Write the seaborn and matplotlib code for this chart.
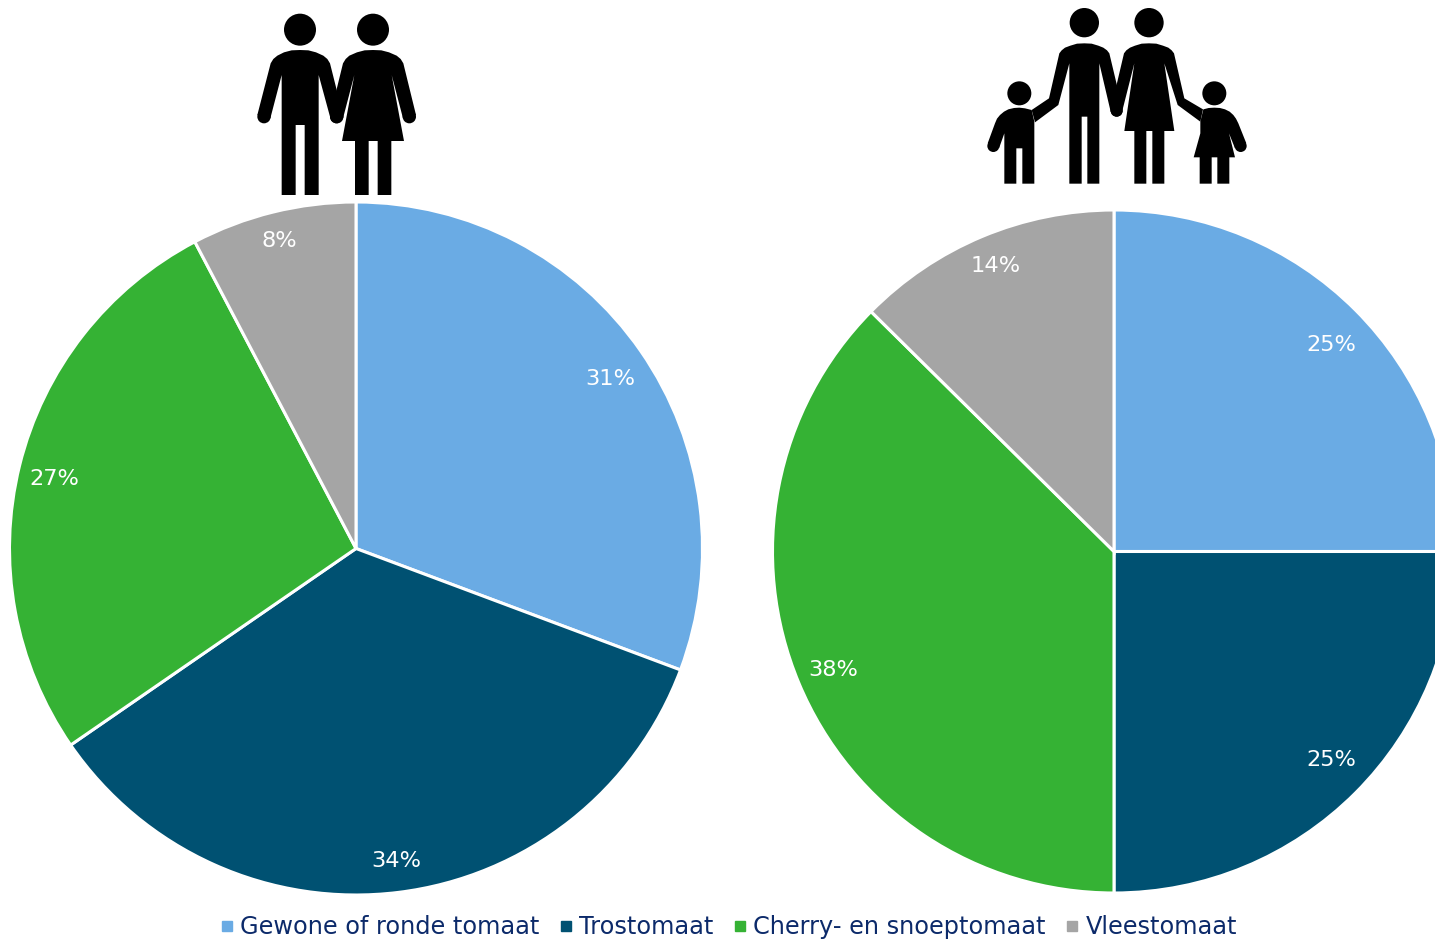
import matplotlib
matplotlib.use("Agg")
import matplotlib.pyplot as plt
from matplotlib.lines import Line2D
from matplotlib.patches import Circle, Polygon
import seaborn as sns

W, H = 1435, 940

categories = ["Gewone of ronde tomaat", "Trostomaat", "Cherry- en snoeptomaat", "Vleestomaat"]
couple_values = [30.7, 34.7, 26.9, 7.7]
couple_labels = ["31%", "34%", "27%", "8%"]
family_values = [25.0, 25.0, 37.4, 12.6]
family_labels = ["25%", "25%", "38%", "14%"]
colors = ["#6AABE4", "#005172", "#35B234", "#A5A5A5"]

sns.set_theme(style="white")
plt.rcParams["font.family"] = ["DejaVu Sans"]
palette = sns.color_palette(colors)

fig = plt.figure(figsize=(W / 100, H / 100), dpi=100)


def draw_pie(values, labels, cx, cy, r, nudges):
    # pie() leaves 1.25 radius of room each way
    half = r * 1.25
    ax = fig.add_axes([(cx - half) / W, 1 - (cy + half) / H, 2 * half / W, 2 * half / H])
    it = iter(labels)
    wedges, _, pct = ax.pie(values, colors=palette, startangle=90, counterclock=False,
                            autopct=lambda p: next(it), pctdistance=0.89,
                            wedgeprops={"edgecolor": "white", "linewidth": 2.2})
    for t, (dx, dy) in zip(pct, nudges):
        x, y = t.get_position()
        t.set_position((x + dx / r, y - dy / r))  # nudges are in pixels, y down
        t.set_color("white")
        t.set_fontsize(16.2)
    return wedges


draw_pie(couple_values, couple_labels, 356, 548.5, 346.5, [(1, 6), (3, 6), (-2, 4), (-3, -8)])
draw_pie(family_values, family_labels, 1114, 551.5, 341.5, [(2, 8), (2, -6), (0, 1), (-1, -5)])

# icons, traced in 3x crop coordinates
icons = fig.add_axes([0, 0, 1, 1], zorder=5)
icons.set_xlim(0, W)
icons.set_ylim(H, 0)
icons.axis("off")


def person(ox, head, hands, outline):
    icons.add_patch(Circle((ox + head[0] / 3, head[1] / 3), head[2] / 3, color="black", lw=0))
    for hx, hy, hr in hands:
        icons.add_patch(Circle((ox + hx / 3, hy / 3), hr / 3, color="black", lw=0))
    pts = [(ox + x / 3, y / 3) for x, y in outline]
    icons.add_patch(Polygon(pts, closed=True, color="black", lw=0))


# couple
person(240, (180, 89, 48), [(72, 350, 20), (290, 350, 20)],
       [(180, 150), (205, 151), (228, 157), (250, 167), (262, 177), (270, 190), (309, 345), (270, 350),
        (236, 225), (236, 585), (194, 585), (194, 375), (167, 375), (167, 585), (125, 585), (125, 225),
        (91, 355), (52, 345), (92, 190), (100, 177), (112, 167), (132, 157), (155, 151)])
person(240, (399, 89, 48), [(508, 350, 20), (290, 350, 20)],
       [(399, 150), (424, 151), (447, 157), (470, 167), (482, 177), (490, 190), (528, 345), (489, 355),
        (455, 225), (492, 423), (454, 423), (454, 585), (413, 585), (413, 423), (386, 423), (386, 585),
        (345, 585), (345, 423), (306, 423), (343, 225), (309, 355), (271, 345), (309, 190), (317, 177),
        (328, 167), (351, 157), (374, 151)])

# family
person(975, (328, 68, 44), [(425, 332, 18)],
       [(328, 130), (350, 131), (370, 137), (385, 143), (396, 151), (403, 160), (443, 328), (407, 335),
        (373, 190), (373, 551), (337, 551), (337, 350), (320, 350), (320, 551), (283, 551), (283, 190),
        (250, 315), (180, 367), (170, 330), (222, 295), (253, 160), (260, 151), (270, 143), (286, 137),
        (306, 131)])
person(975, (522, 68, 44), [(425, 332, 18)],
       [(522, 130), (544, 131), (564, 137), (580, 143), (590, 151), (597, 160), (628, 295), (684, 328),
        (676, 365), (608, 315), (568, 190), (598, 393), (568, 393), (568, 551), (532, 551), (532, 393),
        (514, 393), (514, 551), (478, 551), (478, 393), (448, 393), (478, 190), (443, 328), (407, 330),
        (447, 160), (454, 151), (465, 143), (480, 137), (500, 131)])
person(975, (133, 280, 36), [(55, 438, 18)],
       [(133, 323), (150, 325), (170, 330), (178, 365), (178, 551), (142, 551), (142, 445), (124, 445),
        (124, 551), (88, 551), (88, 400), (72, 445), (38, 430), (60, 370), (66, 356), (75, 345),
        (87, 335), (100, 328), (117, 324)])
person(975, (718, 280, 36), [(797, 438, 18)],
       [(718, 323), (735, 324), (750, 328), (764, 335), (775, 345), (783, 356), (790, 370), (814, 430),
        (780, 445), (762, 400), (780, 472), (763, 472), (763, 551), (727, 551), (727, 472), (710, 472),
        (710, 551), (674, 551), (674, 472), (656, 472), (676, 400), (676, 365), (685, 328), (701, 324)])

handles = [Line2D([], [], linestyle="none", marker="s", markersize=6.5, color=c) for c in colors]
fig.legend(handles, categories, loc="center", bbox_to_anchor=(726 / W, 1 - 927 / H), ncol=4, frameon=False,
           fontsize=17.3, labelcolor="#0C2A6A", handletextpad=0.05, columnspacing=0.6, handlelength=1.0,
           borderpad=0, borderaxespad=0)

fig.savefig("out.png", dpi=100)
